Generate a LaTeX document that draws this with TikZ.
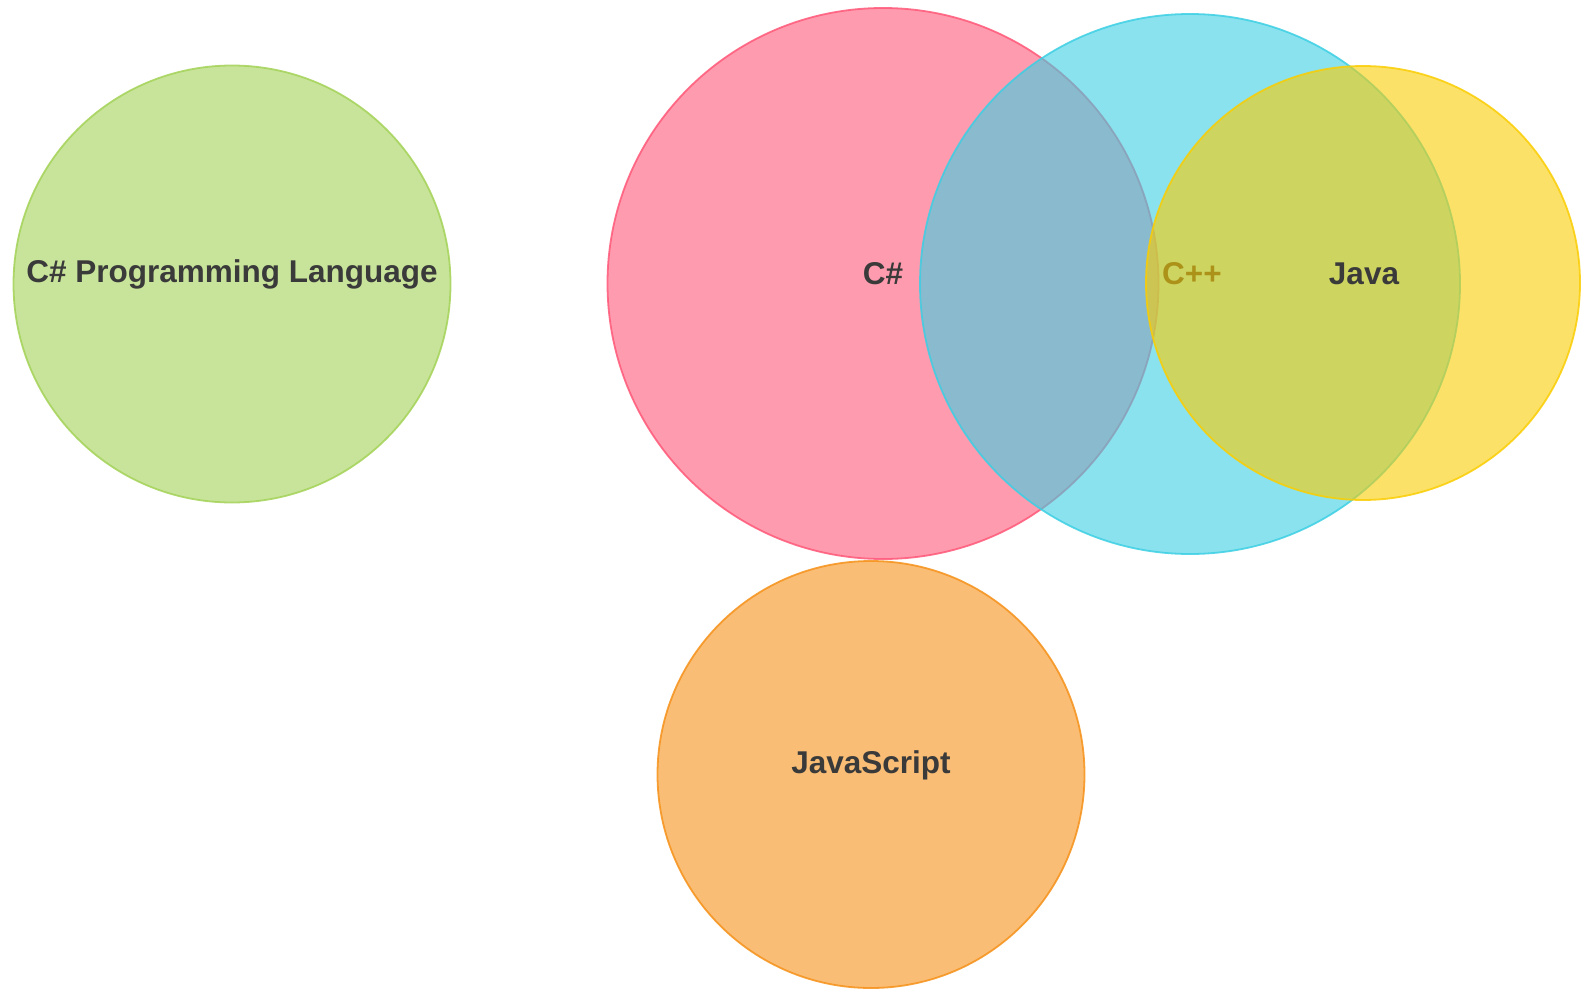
\documentclass[tikz,border=0pt]{standalone}
\usepackage{fontspec}
\setmainfont{Liberation Sans}
\definecolor{cgreen}{RGB}{163,210,87}
\definecolor{cpink}{RGB}{255,88,120}
\definecolor{ccyan}{RGB}{60,207,227}
\definecolor{cyellow}{RGB}{250,205,3}
\definecolor{corange}{RGB}{245,145,25}
\definecolor{ctext}{RGB}{58,58,58}
\begin{document}
\begin{tikzpicture}[x=1pt,y=-1pt,
  venn/.style={circle,inner sep=0pt,outer sep=0pt,fill opacity=0.6,draw opacity=0.85,line width=1.8pt},
  lbl/.style={text=ctext,font=\fontsize{31.5}{36}\selectfont\bfseries,inner sep=0pt,text opacity=1}]
\useasboundingbox (0,0) rectangle (1581,990);
\node[venn,fill=cgreen,draw=cgreen,minimum size=437pt] (g) at (232,284) {};
\node[lbl] (gl) at (232,274) {C\# Programming Language};
\node[venn,fill=cpink,draw=cpink,minimum size=551pt] (p) at (883,283.5) {};
\node[lbl] (pl) at (883,274) {C\#};
\node[venn,fill=ccyan,draw=ccyan,minimum size=540pt] (c) at (1190,284) {};
\node[lbl] (cl) at (1192,274) {C++};
\node[venn,fill=cyellow,draw=cyellow,minimum size=434pt] (y) at (1363,283) {};
\node[lbl] (yl) at (1364,274) {Java};
\node[venn,fill=corange,draw=corange,minimum size=427pt] (o) at (871,774.5) {};
\node[lbl] (ol) at (871,765) {JavaScript};
\end{tikzpicture}
\end{document}
